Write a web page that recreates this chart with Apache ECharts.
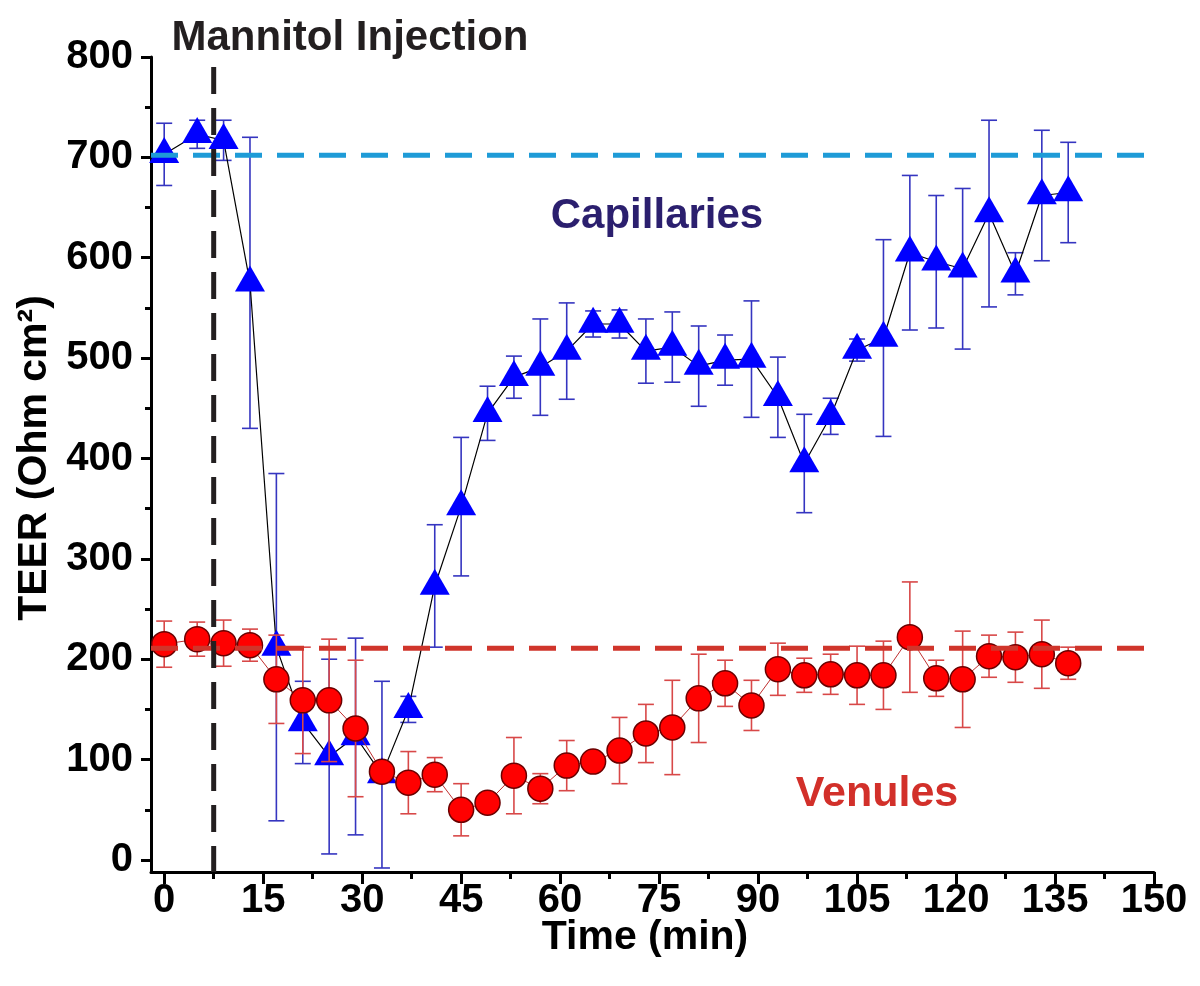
<!DOCTYPE html>
<html>
<head>
<meta charset="utf-8">
<script src="https://cdn.jsdelivr.net/npm/echarts@6/dist/echarts.min.js"></script>
<style>html,body{margin:0;padding:0;background:#fff}#c{width:1200px;height:986px}</style>
</head>
<body>
<div id="c"></div>
<script>
// ---- data ----
const times = [0,5,9,13,17,21,25,29,33,37,41,45,49,53,57,61,65,69,73,77,81,85,89,93,97,101,105,109,113,117,121,125,129,133,137];
const capMean = [703,723,717,575,212,137,103,123,85,150,273,352,445,481,491,507,534,534,507,511,492,498,499,461,395,442,508,520,605,596,589,644,584,662,665];
const capErr  = [31,14,20,145,173,41,97,98,93,13,61,69,27,21,48,48,13,14,32,35,40,25,58,40,49,18,11,98,77,66,80,93,21,65,50];
const venMean = [215,220,216,214,180,159,159,131,88,77,85,50,57,84,71,94,98,109,126,132,161,176,154,190,184,185,184,184,222,181,180,203,202,205,196];
const venErr  = [23,17,23,16,44,53,61,68,8,31,17,26,5,38,15,25,8,33,29,47,44,23,25,26,17,20,29,34,55,18,48,21,25,34,16];
const capBaseline = 702;
const venBaseline = 211;
const injectionTime = 7.5;
const xMajorTicks = [0,15,30,45,60,75,90,105,120,135,150];
const xMinorTicks = [7.5,22.5,37.5,52.5,67.5,82.5,97.5,112.5,127.5,142.5];
const yMajorTicks = [0,100,200,300,400,500,600,700,800];
const yMinorTicks = [50,150,250,350,450,550,650,750];
const xRange = [-2,150];
const yRange = [-12,800];
const baselineEnd = 149.3;
const injectionTop = 790;

const FONT = '"Liberation Sans", Arial, Helvetica, sans-serif';

function errSeries(means, errs, color, z){
  return {
    type:'custom', z:z, silent:true, clip:false,
    data: times.map((t,i)=>[t, means[i]-errs[i], means[i]+errs[i]]),
    encode:{x:0,y:[1,2]},
    renderItem:function(params, api){
      const x = api.value(0), lo = api.value(1), hi = api.value(2);
      const a = api.coord([x,lo]), b = api.coord([x,hi]);
      const hw = 8;
      const style = {stroke:color, lineWidth:1.6};
      return {type:'group', children:[
        {type:'line', shape:{x1:a[0],y1:a[1],x2:b[0],y2:b[1]}, style:style},
        {type:'line', shape:{x1:a[0]-hw,y1:a[1],x2:a[0]+hw,y2:a[1]}, style:style},
        {type:'line', shape:{x1:b[0]-hw,y1:b[1],x2:b[0]+hw,y2:b[1]}, style:style}
      ]};
    }
  };
}

const chart = echarts.init(document.getElementById('c'), null, {renderer:'canvas'});

const option = {
  animation:false,
  backgroundColor:'#fff',
  grid:{left:151, right:46, top:57, bottom:114, outerBoundsMode:'none', containLabel:false},
  xAxis:[
    {type:'value', min:xRange[0], max:xRange[1], position:'bottom',
     axisLine:{show:true, onZero:false, lineStyle:{color:'#000', width:3}},
     axisTick:{show:true, customValues:xMajorTicks, length:12, lineStyle:{color:'#000', width:3}},
     axisLabel:{show:true, customValues:xMajorTicks, margin:9, color:'#000', fontFamily:FONT, fontWeight:'bold', fontSize:40},
     splitLine:{show:false}},
    {type:'value', min:xRange[0], max:xRange[1], position:'bottom',
     axisLine:{show:false, onZero:false},
     axisTick:{show:true, customValues:xMinorTicks, length:7, lineStyle:{color:'#000', width:3}},
     axisLabel:{show:false}, splitLine:{show:false}}
  ],
  yAxis:[
    {type:'value', min:yRange[0], max:yRange[1], position:'left',
     axisLine:{show:true, onZero:false, lineStyle:{color:'#000', width:3}},
     axisTick:{show:true, customValues:yMajorTicks, length:10, lineStyle:{color:'#000', width:3}},
     axisLabel:{show:true, customValues:yMajorTicks, margin:18, color:'#000', fontFamily:FONT, fontWeight:'bold', fontSize:40},
     splitLine:{show:false}},
    {type:'value', min:yRange[0], max:yRange[1], position:'left',
     axisLine:{show:false, onZero:false},
     axisTick:{show:true, customValues:yMinorTicks, length:6, lineStyle:{color:'#000', width:3}},
     axisLabel:{show:false}, splitLine:{show:false}}
  ],
  graphic:[
    {type:'text', x:350, y:38, z:100, style:{text:'Mannitol Injection', fill:'#231f20', fontFamily:FONT, fontWeight:'bold', fontSize:42, align:'center', verticalAlign:'middle'}},
    {type:'text', x:657, y:216, z:100, style:{text:'Capillaries', fill:'#2b1f6e', fontFamily:FONT, fontWeight:'bold', fontSize:42, align:'center', verticalAlign:'middle'}},
    {type:'text', x:877, y:794, z:100, style:{text:'Venules', fill:'#d2302a', fontFamily:FONT, fontWeight:'bold', fontSize:43, align:'center', verticalAlign:'middle'}},
    {type:'text', x:645, y:938, z:100, style:{text:'Time (min)', fill:'#000', fontFamily:FONT, fontWeight:'bold', fontSize:41, align:'center', verticalAlign:'middle'}},
    {type:'text', x:35, y:458, rotation:Math.PI/2, z:100, style:{text:'TEER (Ohm cm²)', fill:'#000', fontFamily:FONT, fontWeight:'bold', fontSize:41, align:'center', verticalAlign:'middle'}}
  ],
  series:[
    errSeries(capMean, capErr, '#3535c0', 2),
    {type:'line', z:3, data:times.map((t,i)=>[t,capMean[i]]),
     symbol:'triangle', symbolSize:[30,26], symbolOffset:[0,-4.3], showSymbol:true,
     itemStyle:{color:'#0000ff', borderWidth:0},
     lineStyle:{color:'#000', width:1.2}, silent:true},
    errSeries(venMean, venErr, '#d84848', 4),
    {type:'line', z:5, data:times.map((t,i)=>[t,venMean[i]]),
     symbol:'circle', symbolSize:25, showSymbol:true,
     itemStyle:{color:'#ff0000', borderColor:'#6a0000', borderWidth:1.5},
     lineStyle:{color:'#c03030', width:1}, silent:true},
    {type:'line', z:6, data:[[xRange[0],capBaseline],[baselineEnd,capBaseline]], symbol:'none', silent:true,
     lineStyle:{color:'#1e9bd7', width:5, type:[27,15], cap:'butt'}},
    {type:'line', z:6, data:[[xRange[0],venBaseline],[baselineEnd,venBaseline]], symbol:'none', silent:true,
     lineStyle:{color:'#d0352b', width:5, type:[27,15], cap:'butt'}},
    {type:'line', z:7, data:[[injectionTime,injectionTop],[injectionTime,yRange[0]]], symbol:'none', silent:true,
     lineStyle:{color:'#231f20', width:5, type:[27,14], cap:'butt'}}
  ]
};
chart.setOption(option);
</script>
</body>
</html>
